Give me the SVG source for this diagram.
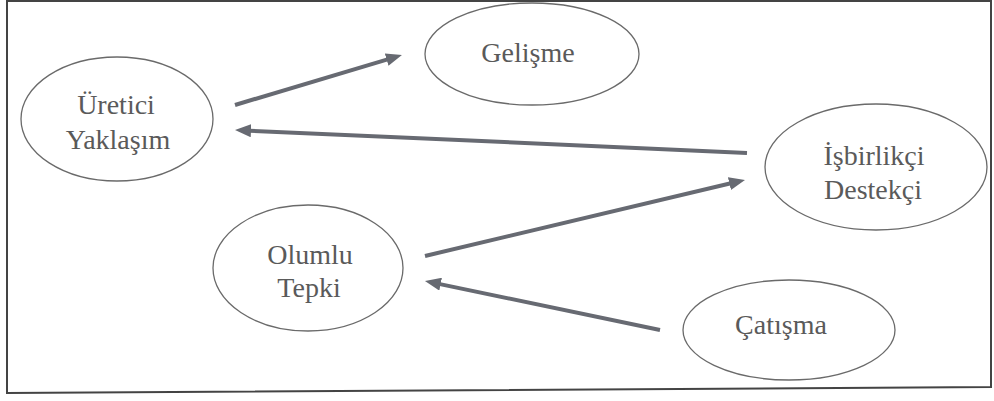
<svg xmlns="http://www.w3.org/2000/svg" width="994" height="401" viewBox="0 0 994 401" font-family="Liberation Serif, Times New Roman, serif">
<style>
.node ellipse{fill:none;stroke:#6a6a6a;stroke-width:1.3}
.node text{font-size:28px;fill:#5a5a5a;text-anchor:middle}
.conn{stroke:#676a72;stroke-width:4;fill:none;marker-end:url(#ah)}
</style>
<defs>
<marker id="ah" markerUnits="userSpaceOnUse" markerWidth="16" markerHeight="13" refX="8" refY="6.5" orient="auto">
<path d="M0,0 L16,6.5 L0,13 z" fill="#676a72"/>
</marker>
</defs>
<rect width="994" height="401" fill="#ffffff"/>
<polygon id="frame" points="7,1 991,1 991,387 7,393" fill="none" stroke="#444" stroke-width="2"/>
<g id="n-uretici" class="node">
<ellipse cx="117" cy="119" rx="96" ry="62"/>
<text x="116" y="114" font-family="Liberation Serif">Üretici</text>
<text x="118" y="149" font-family="Liberation Serif">Yaklaşım</text>
</g>
<g id="n-gelisme" class="node">
<ellipse cx="532" cy="54" rx="107" ry="51"/>
<text x="528" y="62" font-family="Liberation Serif">Gelişme</text>
</g>
<g id="n-isbirlikci" class="node">
<ellipse cx="876" cy="167" rx="111" ry="63"/>
<text x="874" y="165" font-family="Liberation Serif">İşbirlikçi</text>
<text x="873" y="199" font-family="Liberation Serif">Destekçi</text>
</g>
<g id="n-olumlu" class="node">
<ellipse cx="308" cy="268" rx="95" ry="63"/>
<text x="310" y="264" font-family="Liberation Serif">Olumlu</text>
<text x="309" y="297" font-family="Liberation Serif">Tepki</text>
</g>
<g id="n-catisma" class="node">
<ellipse cx="789" cy="330" rx="106" ry="50"/>
<text x="781" y="334" font-family="Liberation Serif">Çatışma</text>
</g>
<g id="connectors">
<line class="conn" x1="235" y1="105" x2="394.3" y2="57.3"/>
<line class="conn" x1="747" y1="153" x2="243" y2="130.4"/>
<line class="conn" x1="425" y1="256" x2="737.2" y2="181.8"/>
<line class="conn" x1="660" y1="330" x2="432.8" y2="282.6"/>
</g>
</svg>
